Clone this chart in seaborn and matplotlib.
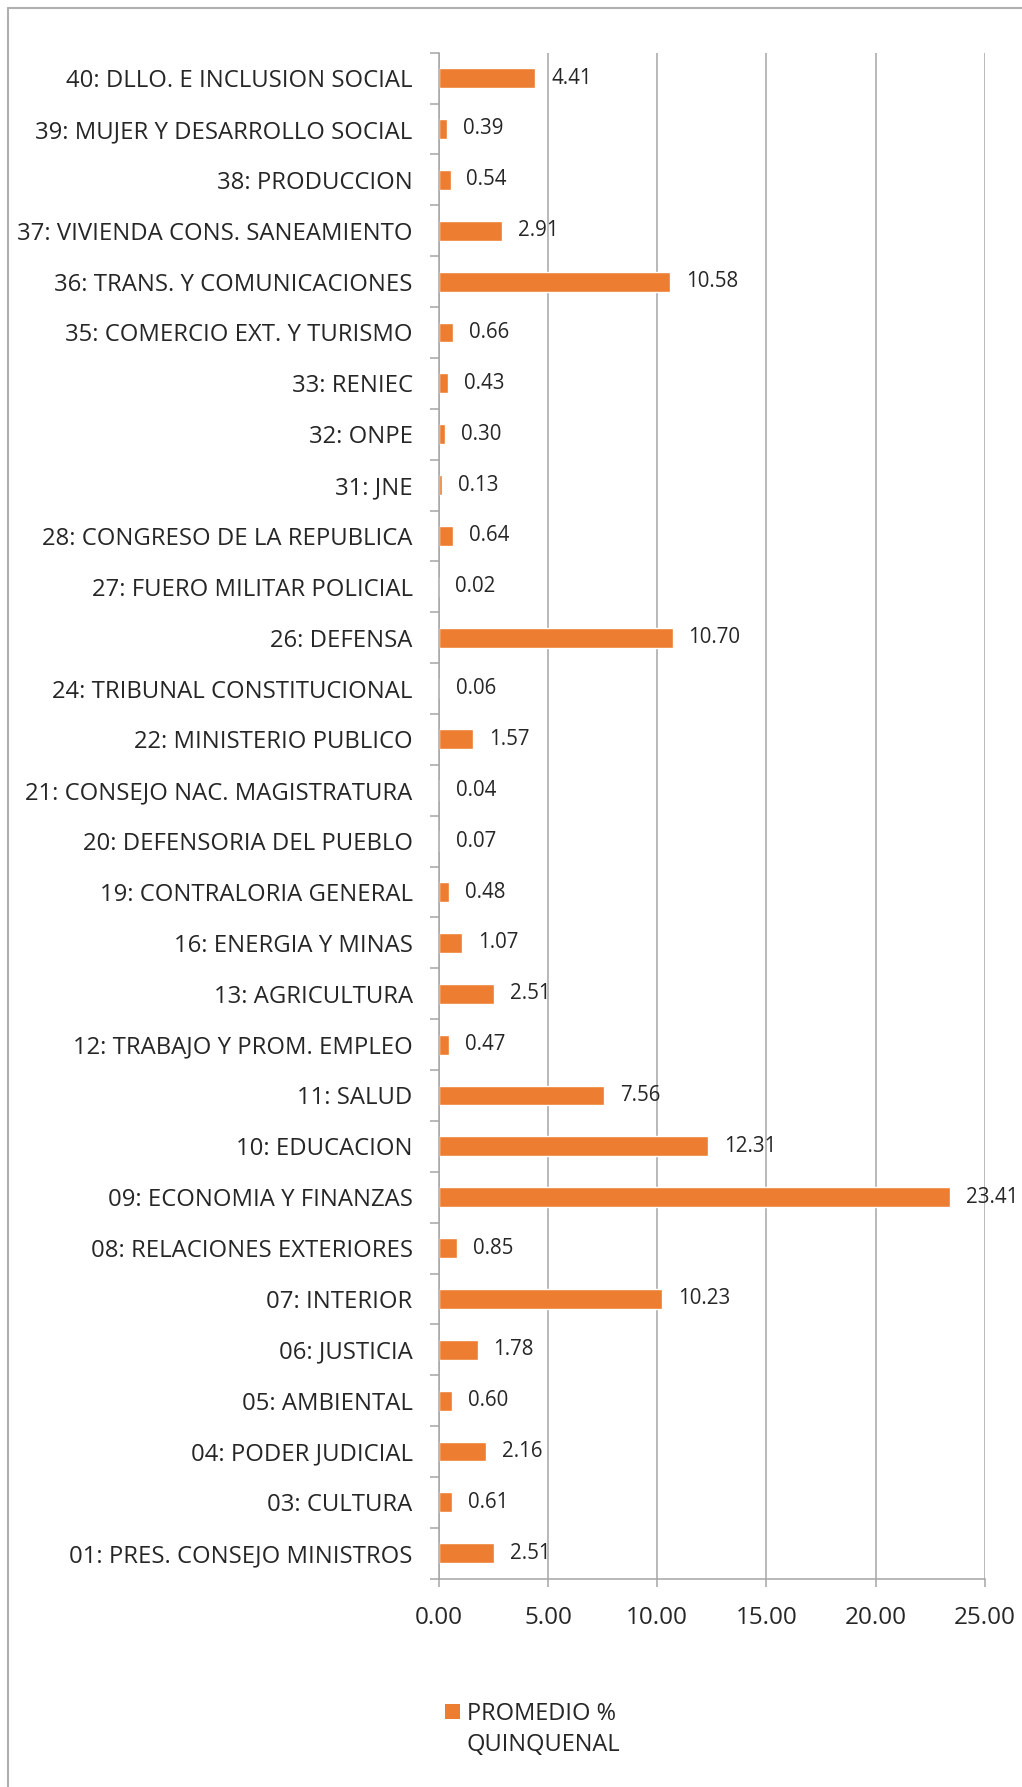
import numpy as np
import pandas as pd
import matplotlib
matplotlib.use('Agg')
import matplotlib.pyplot as plt
import seaborn as sns
from matplotlib.lines import Line2D
from matplotlib.patches import Patch
from matplotlib.ticker import FormatStrFormatter

# sectores de arriba hacia abajo
sectores = [
    '40: DLLO. E INCLUSION SOCIAL',
    '39: MUJER Y DESARROLLO SOCIAL',
    '38: PRODUCCION',
    '37: VIVIENDA CONS. SANEAMIENTO',
    '36: TRANS. Y COMUNICACIONES',
    '35: COMERCIO EXT. Y TURISMO',
    '33: RENIEC',
    '32: ONPE',
    '31: JNE',
    '28: CONGRESO DE LA REPUBLICA',
    '27: FUERO MILITAR POLICIAL',
    '26: DEFENSA',
    '24: TRIBUNAL CONSTITUCIONAL',
    '22: MINISTERIO PUBLICO',
    '21: CONSEJO NAC. MAGISTRATURA',
    '20: DEFENSORIA DEL PUEBLO',
    '19: CONTRALORIA GENERAL',
    '16: ENERGIA Y MINAS',
    '13: AGRICULTURA',
    '12: TRABAJO Y PROM. EMPLEO',
    '11: SALUD',
    '10: EDUCACION',
    '09: ECONOMIA Y FINANZAS',
    '08: RELACIONES EXTERIORES',
    '07: INTERIOR',
    '06: JUSTICIA',
    '05: AMBIENTAL',
    '04: PODER JUDICIAL',
    '03: CULTURA',
    '01: PRES. CONSEJO MINISTROS',
]
promedio = [4.41, 0.39, 0.54, 2.91, 10.58, 0.66, 0.43, 0.30, 0.13, 0.64,
            0.02, 10.70, 0.06, 1.57, 0.04, 0.07, 0.48, 1.07, 2.51, 0.47,
            7.56, 12.31, 23.41, 0.85, 10.23, 1.78, 0.60, 2.16, 0.61, 2.51]
x_ticks = [0, 5, 10, 15, 20, 25]
leyenda = ['PROMEDIO %', 'QUINQUENAL']

df = pd.DataFrame({'sector': sectores, 'promedio': promedio})

naranja = '#ED7D31'
gris = '#a6a6a6'

sns.set_style('white')
plt.rcParams['font.family'] = ['Open Sans', 'DejaVu Sans']

W, H = 1022, 1787
fig = plt.figure(figsize=(W / 100, H / 100), dpi=100)
ax = fig.add_axes([438.7 / W, 1 - 1578.7 / H, (985 - 438.7) / W, (1578.7 - 52.7) / H])

sns.barplot(data=df, x='promedio', y='sector', color=naranja, saturation=1,
            width=0.39, ax=ax)

n = len(sectores)
ax.set_xlim(0, 25)
ax.set_ylim(n - 0.5, -0.5)
ax.set_xticks(x_ticks)
ax.xaxis.set_major_formatter(FormatStrFormatter('%.2f'))
ax.set_xlabel('')
ax.set_ylabel('')

ax.grid(axis='x', color=gris, lw=1.1)
ax.grid(axis='y', visible=False)
ax.set_axisbelow(True)
for s in ['top', 'right']:
    ax.spines[s].set_visible(False)
for s in ['left', 'bottom']:
    ax.spines[s].set_color(gris)
    ax.spines[s].set_linewidth(1.1)

ax.set_yticks(np.arange(-0.5, n, 1.0), minor=True)
ax.tick_params(axis='y', which='major', length=0, pad=18.7, labelsize=17.2)
ax.tick_params(axis='y', which='minor', length=6.5, width=1.1, color=gris, direction='out', left=True)
ax.tick_params(axis='x', which='major', length=5.8, width=1.1, color=gris, direction='out',
               bottom=True, pad=14, labelsize=17.5)

for c in ax.containers:
    ax.bar_label(c, fmt='%.2f', padding=11.5, fontsize=14.8)

handles = [Patch(facecolor=naranja, edgecolor='none'), Patch(facecolor='none', edgecolor='none')]
fig.legend(handles, leyenda, loc='upper left', bbox_to_anchor=(445 / W, 1 - 1702 / H),
           frameon=False, fontsize=17, handlelength=0.62, handleheight=0.62,
           handletextpad=0.3, labelspacing=0.3, borderpad=0, borderaxespad=0)

# borde del area del grafico
fig.add_artist(Line2D([8 / W, 8 / W], [0, 1 - 8 / H], transform=fig.transFigure, color='#b0b0b0', lw=1.5))
fig.add_artist(Line2D([8 / W, 1], [1 - 8 / H, 1 - 8 / H], transform=fig.transFigure, color='#b0b0b0', lw=1.5))

fig.savefig('out.png', dpi=100)
